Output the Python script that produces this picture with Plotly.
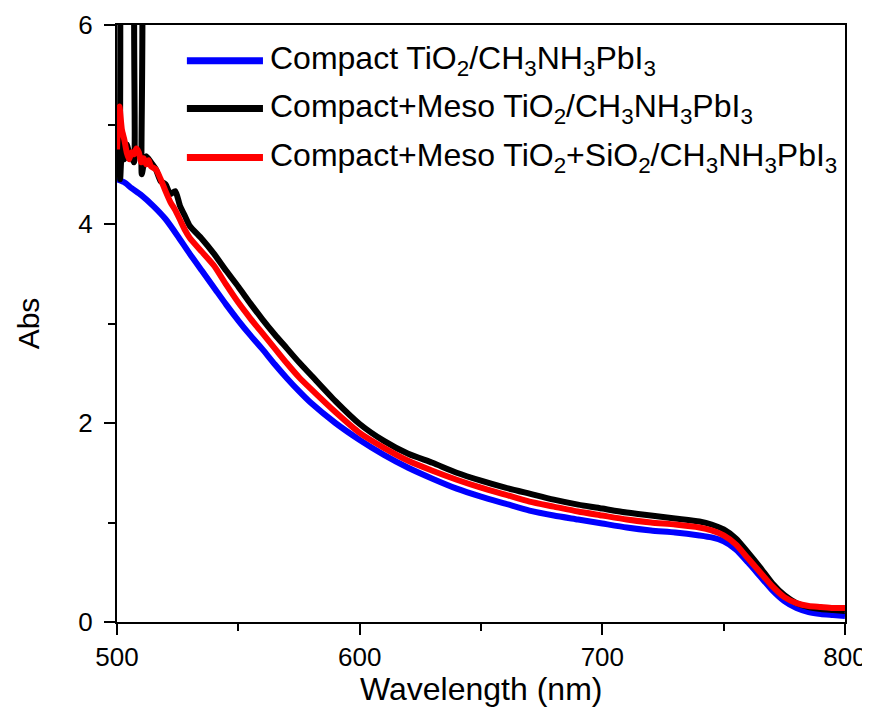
import plotly.graph_objects as go

# ---- data ----
wl_blue = [500, 503, 506, 510, 515, 520, 525, 530, 535, 540, 545, 550, 555, 560, 565,
           570, 575, 580, 590, 600, 610, 620, 630, 640, 650, 660, 670, 680, 690, 700,
           710, 720, 730, 740, 745, 750, 755, 760, 765, 770, 775, 780, 785, 790, 795, 800]
abs_blue = [4.45, 4.42, 4.36, 4.29, 4.18, 4.05, 3.88, 3.70, 3.53, 3.36, 3.19, 3.03, 2.88, 2.74, 2.59,
            2.45, 2.32, 2.20, 2.00, 1.83, 1.68, 1.55, 1.44, 1.34, 1.26, 1.19, 1.12, 1.07, 1.03, 0.99,
            0.95, 0.92, 0.90, 0.87, 0.85, 0.81, 0.73, 0.60, 0.46, 0.32, 0.21, 0.14, 0.10, 0.08, 0.07, 0.06]

wl_black = [500, 500.6, 501.3, 502, 503, 504, 505, 506, 507, 508, 509.5, 510.2, 511, 512, 514,
            516, 518, 520, 522, 524, 526, 528, 530, 535, 540, 545, 550, 555, 560, 565,
            570, 575, 580, 590, 600, 610, 620, 630, 640, 650, 660, 670, 680, 690, 700,
            710, 720, 730, 740, 745, 750, 755, 760, 765, 770, 775, 780, 785, 790, 795, 800]
abs_black = [6.8, 6.8, 4.45, 4.70, 4.65, 4.80, 4.72, 4.68, 4.62, 6.8, 6.8, 4.50, 4.60, 4.68, 4.62,
             4.55, 4.43, 4.40, 4.30, 4.33, 4.18, 4.08, 3.98, 3.85, 3.70, 3.53, 3.37, 3.20, 3.04, 2.89,
             2.75, 2.61, 2.48, 2.22, 1.99, 1.82, 1.69, 1.60, 1.50, 1.42, 1.35, 1.29, 1.23, 1.18, 1.14,
             1.10, 1.07, 1.04, 1.01, 0.98, 0.93, 0.84, 0.70, 0.55, 0.39, 0.27, 0.19, 0.15, 0.13, 0.12, 0.11]

wl_red = [500, 501, 502, 503, 504, 505, 506, 507, 508, 509, 510, 511, 512, 513, 514,
          516, 518, 520, 522, 524, 526, 528, 530, 535, 540, 545, 550, 555, 560, 565,
          570, 575, 580, 590, 600, 610, 620, 630, 640, 650, 660, 670, 680, 690, 700,
          710, 720, 730, 740, 745, 750, 755, 760, 765, 770, 775, 780, 785, 790, 795, 800]
abs_red = [4.75, 5.18, 4.95, 4.85, 4.72, 4.65, 4.72, 4.70, 4.76, 4.72, 4.62, 4.66, 4.60, 4.64, 4.58,
           4.55, 4.45, 4.33, 4.22, 4.14, 4.04, 3.94, 3.86, 3.72, 3.58, 3.39, 3.21, 3.05, 2.90, 2.75,
           2.60, 2.46, 2.34, 2.11, 1.90, 1.75, 1.62, 1.52, 1.43, 1.35, 1.28, 1.21, 1.16, 1.11, 1.07,
           1.03, 1.00, 0.98, 0.95, 0.92, 0.87, 0.78, 0.64, 0.50, 0.36, 0.25, 0.19, 0.16, 0.15, 0.14, 0.14]

legend_labels = [
    "Compact TiO<sub>2</sub>/CH<sub>3</sub>NH<sub>3</sub>PbI<sub>3</sub>",
    "Compact+Meso TiO<sub>2</sub>/CH<sub>3</sub>NH<sub>3</sub>PbI<sub>3</sub>",
    "Compact+Meso TiO<sub>2</sub>+SiO<sub>2</sub>/CH<sub>3</sub>NH<sub>3</sub>PbI<sub>3</sub>",
]
colors = ["#0000FF", "#000000", "#FF0000"]

x_ticks = [500, 600, 700, 800]
y_ticks = [0, 2, 4, 6]

FONT = "Arial, Liberation Sans, sans-serif"

fig = go.Figure()
series = [(wl_blue, abs_blue), (wl_black, abs_black), (wl_red, abs_red)]
for (xs, ys), c, name in zip(series, colors, legend_labels):
    fig.add_trace(go.Scatter(x=xs, y=ys, mode="lines", name=name,
                             line=dict(color=c, width=6, shape="spline", smoothing=0.6),
                             showlegend=False))

# custom legend (long line samples like the reference)
row_y = [0.940, 0.860, 0.778]
for yy, c, name in zip(row_y, colors, legend_labels):
    fig.add_shape(type="line", xref="paper", yref="paper", x0=0.096, x1=0.2005,
                  y0=yy, y1=yy, line=dict(color=c, width=7))
    fig.add_annotation(xref="paper", yref="paper", x=0.2074, y=yy, text=name,
                       showarrow=False, xanchor="left", yanchor="middle",
                       font=dict(family=FONT, size=32, color="black"))

# x-axis title placed as in the reference
fig.add_annotation(xref="paper", yref="paper", x=0.5, y=-0.112, text="Wavelength (nm)",
                   showarrow=False, xanchor="center", yanchor="middle",
                   font=dict(family=FONT, size=32, color="black"))

axis_common = dict(showline=True, linecolor="black", linewidth=2, mirror=True,
                   ticks="outside", ticklen=11, tickwidth=2, tickcolor="black",
                   showgrid=False, zeroline=False,
                   tickfont=dict(family=FONT, size=26, color="black"))

fig.update_xaxes(range=[500, 800], tickvals=x_ticks, ticktext=[str(v) for v in x_ticks],
                 minor=dict(tickvals=[550, 650, 750], ticklen=7, tickwidth=2,
                            tickcolor="black", ticks="outside"),
                 **axis_common)
fig.update_yaxes(range=[0, 6], tickvals=y_ticks, ticktext=[str(v) for v in y_ticks],
                 ticklabelstandoff=6,
                 minor=dict(tickvals=[1, 3, 5], ticklen=7, tickwidth=2,
                            tickcolor="black", ticks="outside"),
                 title=dict(text="Abs", font=dict(family=FONT, size=30, color="black"),
                            standoff=30),
                 **axis_common)

# page body has an 8px margin, so the figure is sized to fit the 870x719 window
fig.update_layout(width=862, height=711, margin=dict(l=109, r=25, t=17, b=97, autoexpand=False),
                  paper_bgcolor="white", plot_bgcolor="white", showlegend=False)

fig.write_html("out.html")
